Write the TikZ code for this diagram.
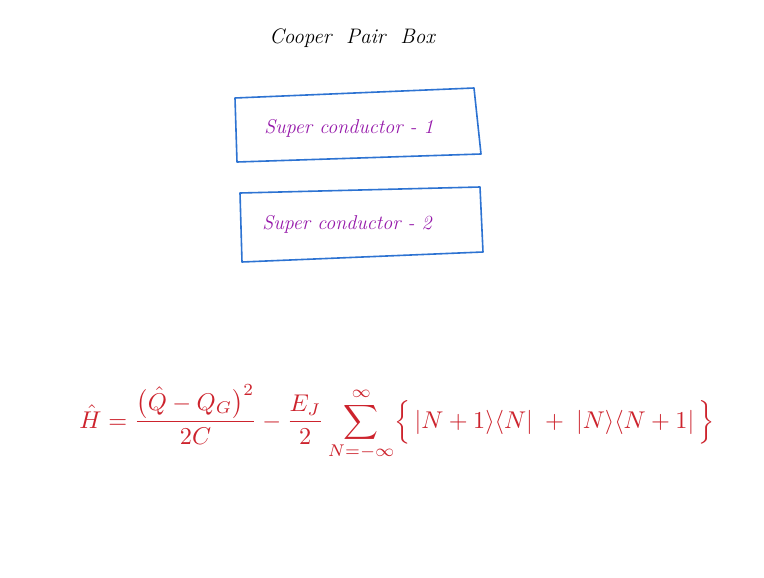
\documentclass[tikz,border=0pt]{standalone}
\usepackage{graphicx}
\usepackage{amsmath}
\definecolor{boxblue}{RGB}{45,115,210}
\definecolor{textpurple}{RGB}{150,25,170}
\definecolor{eqred}{RGB}{205,35,45}
\tikzset{
  boxline/.style={draw=boxblue, line width=1.6pt, line join=round},
  sctext/.style={text=textpurple, font=\fontsize{20}{24}\selectfont\itshape},
  titletext/.style={text=black, font=\fontsize{21}{25}\selectfont\itshape},
  eqtext/.style={text=eqred}
}
\begin{document}
\begin{tikzpicture}[x=1pt,y=-1pt]
\useasboundingbox[fill=white] (0,0) rectangle (764,578);
\node[titletext] (title) at (352,38) {Cooper\ \ Pair\ \ Box};
% box 1
\coordinate (a1) at (235,98);
\coordinate (b1) at (474,88);
\coordinate (c1) at (481,154);
\coordinate (d1) at (237,162);
\draw[boxline] (a1) -- (b1) -- (c1) -- (d1) -- cycle;
\node[sctext] (sc1) at (349,128) {Super conductor - 1};
% box 2
\coordinate (a2) at (240,193);
\coordinate (b2) at (480,187);
\coordinate (c2) at (483,252);
\coordinate (d2) at (242,262);
\draw[boxline] (a2) -- (b2) -- (c2) -- (d2) -- cycle;
\node[sctext] (sc2) at (347,224) {Super conductor - 2};
% equation
\node[eqtext] (eq) at (397,423) {\resizebox{635pt}{!}{$\displaystyle
\hat{H} = \frac{\bigl(\hat{Q}-Q_G\bigr)^2}{2C} - \frac{E_J}{2}\sum_{N=-\infty}^{\infty}
\Bigl\{\, |N+1\rangle\langle N| \;+\; |N\rangle\langle N+1| \,\Bigr\}$}};
\end{tikzpicture}
\end{document}
